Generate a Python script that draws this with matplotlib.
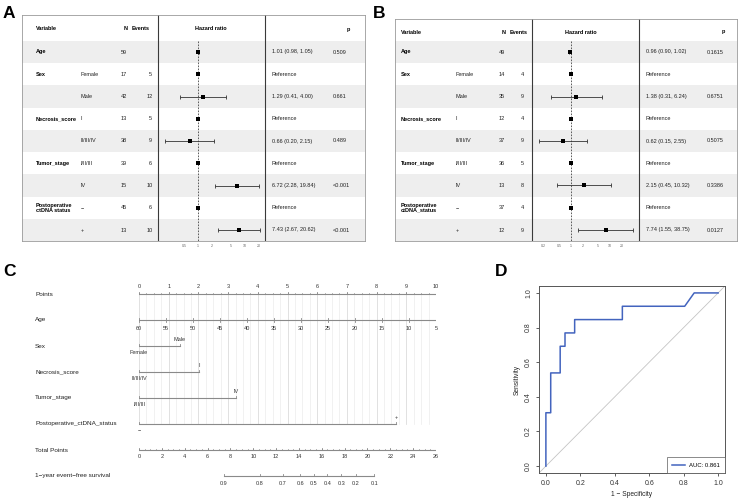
import matplotlib
matplotlib.use('Agg')
import matplotlib.pyplot as plt
from matplotlib.transforms import blended_transform_factory as btf
from matplotlib.ticker import NullLocator, FixedLocator
import numpy as np

plt.rcParams['font.family'] = ['Liberation Sans', 'DejaVu Sans']

# ---------------- data ----------------
variables_A = ["Age", "Sex", "", "Necrosis_score", "", "Tumor_stage", "", "Postoperative\nctDNA status", ""]
variables_B = ["Age", "Sex", "", "Necrosis_score", "", "Tumor_stage", "", "Postoperative\nctDNA_status", ""]
levels = ["", "Female", "Male", "I", "II/III/IV", "I/II/III", "IV", "\u2212", "+"]

A_n = [59, 17, 42, 13, 38, 39, 15, 45, 13]
A_events = [None, 5, 12, 5, 9, 6, 10, 6, 10]
A_hr = [1.01, 1, 1.29, 1, 0.66, 1, 6.72, 1, 7.43]
A_lo = [0.98, None, 0.41, None, 0.20, None, 2.28, None, 2.67]
A_hi = [1.05, None, 4.00, None, 2.15, None, 19.84, None, 20.62]
A_p = ["0.509", "", "0.661", "", "0.489", "", "<0.001", "", "<0.001"]
A_ticks = [0.5, 1, 2, 5, 10, 20]

B_n = [49, 14, 35, 12, 37, 36, 13, 37, 12]
B_events = [None, 4, 9, 4, 9, 5, 8, 4, 9]
B_hr = [0.96, 1, 1.38, 1, 0.62, 1, 2.15, 1, 7.74]
B_lo = [0.90, None, 0.31, None, 0.15, None, 0.45, None, 1.55]
B_hi = [1.02, None, 6.24, None, 2.55, None, 10.32, None, 38.75]
B_p = ["0.1615", "", "0.6751", "", "0.5075", "", "0.3386", "", "0.0127"]
B_ticks = [0.2, 0.5, 1, 2, 5, 10, 20]

# nomogram
nom_labels = ["Points", "Age", "Sex", "Necrosis_score", "Tumor_stage",
              "Postoperative_ctDNA_status", "Total Points", "1\u2212year event\u2212free survival"]
points_major = list(range(0, 11))
age_ticks = [60, 55, 50, 45, 40, 35, 30, 25, 20, 15, 10, 5]
age_points = [0, 0.91, 1.82, 2.73, 3.64, 4.55, 5.45, 6.36, 7.27, 8.18, 9.09, 10]
sex_levels = ["Female", "Male"]
sex_points = [0, 1.38]
necrosis_levels = ["II/III/IV", "I"]
necrosis_points = [0, 2.02]
tumor_levels = ["I/II/III", "IV"]
tumor_points = [0, 3.27]
ctdna_levels = ["\u2212", "+"]
ctdna_points = [0, 8.65]
total_max = 26
total_major = list(range(0, 27, 2))
surv_labels = ["0.9", "0.8", "0.7", "0.6", "0.5", "0.4", "0.3", "0.2", "0.1"]
surv_total = [7.44, 10.6, 12.6, 14.1, 15.3, 16.5, 17.7, 19.0, 20.6]

# ROC
roc_fpr = [0, 0, 0.028, 0.028, 0.083, 0.083, 0.111, 0.111, 0.167, 0.167, 0.444, 0.444, 0.806, 0.861, 1.0]
roc_tpr = [0, 0.308, 0.308, 0.538, 0.538, 0.692, 0.692, 0.769, 0.769, 0.846, 0.846, 0.923, 0.923, 1.0, 1.0]
auc_label = "AUC: 0.861"

# ---------------- figure ----------------
W, H = 740, 503
fig = plt.figure(figsize=(7.4, 5.03), dpi=100)


def rect(x0, y0, x1, y1):
    return [x0 / W, 1 - y1 / H, (x1 - x0) / W, (y1 - y0) / H]


def forest(variables, n, events, hr, lo, hi, p, ticks, L):
    x0, x1 = L['box_x']
    y0, y1 = L['box_y']
    row_h = 22.25
    c0 = 52
    yt = (y0 - c0) / row_h
    yb = (y1 - c0) / row_h
    nrows = len(levels)
    tab = fig.add_axes(rect(x0, y0, x1, y1))
    tab.set_xlim(x0, x1)
    tab.set_ylim(yb, yt)
    tab.set_xticks([]); tab.set_yticks([])
    for s in tab.spines.values():
        s.set_color('#9a9a9a'); s.set_linewidth(0.6)
    for i in range(nrows):
        if i % 2 == 0:
            tab.axhspan(i - 0.5, i + 0.5, color='#eeeeee', lw=0)
    for sx in L['sep']:
        tab.axvline(sx, color='#3a3a3a', lw=0.8)
    fs = 4.0
    hy = (L['head_y'] - c0) / row_h
    tab.text(L['var_x'], hy, "Variable", fontsize=fs, weight='bold', va='center')
    tab.text(L['nh_x'], hy, "N", fontsize=fs, weight='bold', va='center', ha='center')
    tab.text(L['eh_x'], hy, "Events", fontsize=fs, weight='bold', va='center', ha='left')
    tab.text(L['hh_x'], hy, "Hazard ratio", fontsize=fs, weight='bold', va='center', ha='center')
    tab.text(L['ph_x'], hy, "p", fontsize=fs, weight='bold', va='center', ha='center')
    for i in range(nrows):
        if variables[i]:
            tab.text(L['var_x'], i, variables[i], fontsize=fs, weight='bold', va='center',
                     linespacing=1.0)
        tab.text(L['lev_x'], i, levels[i], fontsize=fs, va='center', color='#222')
        tab.text(L['n_x'], i, str(n[i]), fontsize=fs, va='center', ha='center', color='#222')
        if events[i] is not None:
            tab.text(L['e_x'], i, str(events[i]), fontsize=fs, va='center', ha='center', color='#222')
        if lo[i] is None:
            txt = "Reference"
        else:
            txt = "%.2f (%.2f, %.2f)" % (hr[i], lo[i], hi[i])
        tab.text(L['t_x'], i, txt, fontsize=fs, va='center', color='#222')
        tab.text(L['p_x'], i, p[i], fontsize=fs, va='center', color='#222')

    ax = fig.add_axes(rect(L['sep'][0], y0, L['sep'][1], y1))
    ax.set_xscale('log')
    ax.set_xlim(*L['xlim'])
    ax.set_ylim(yb, yt)
    ax.patch.set_alpha(0)
    for s in ax.spines.values():
        s.set_visible(False)
    ax.set_yticks([])
    ax.xaxis.set_major_locator(FixedLocator(ticks))
    ax.xaxis.set_minor_locator(NullLocator())
    ax.set_xticklabels([("%g" % t) for t in ticks])
    ax.tick_params(axis='x', length=0, labelsize=2.6, pad=2.0, labelcolor='#666')
    ax.plot([1, 1], [-0.5, nrows - 0.5], ls=(0, (2, 1.6)), color='#444', lw=0.6)
    for i in range(nrows):
        if lo[i] is not None:
            ax.errorbar([hr[i]], [i], xerr=[[hr[i] - lo[i]], [hi[i] - hr[i]]], fmt='none',
                        ecolor='#333', elinewidth=0.6, capsize=1.4, capthick=0.6)
    ax.plot(hr, list(range(nrows)), 's', ms=3.0, color='black', mec='black', mew=0)


LA = dict(box_x=(22, 365), box_y=(15, 241), sep=(158, 265), head_y=29,
          var_x=36, lev_x=81, n_x=124, e_x=150, t_x=272, p_x=333,
          nh_x=126, eh_x=132, hh_x=211, ph_x=348, xlim=(0.14, 26.6))
LB = dict(box_x=(395, 737), box_y=(19, 241), sep=(532, 639), head_y=32,
          var_x=401, lev_x=456, n_x=502, e_x=522, t_x=646, p_x=707,
          nh_x=504, eh_x=510, hh_x=581, ph_x=723, xlim=(0.1, 55.5))

forest(variables_A, A_n, A_events, A_hr, A_lo, A_hi, A_p, A_ticks, LA)
forest(variables_B, B_n, B_events, B_hr, B_lo, B_hi, B_p, B_ticks, LB)

# ---------------- nomogram ----------------
nom = fig.add_axes(rect(139, 280, 436, 490))
row_px = 26.0
nom.set_xlim(0, 10)
nom.set_ylim((490 - 294) / row_px, (280 - 294) / row_px)
nom.axis('off')
lab_tr = btf(fig.transFigure, nom.transData)
lc = '#8a8a8a'
tk = 0.07
tfs = 4.0

for i, lab in enumerate(nom_labels):
    nom.text(35 / W, i, lab, transform=lab_tr, fontsize=4.6, va='center', ha='left', color='#222')

# grid
minor_pts = np.arange(0, 10.001, 0.25)
for x in minor_pts:
    c = '#d4d4d4' if abs(x - round(x)) < 1e-6 else '#ebebeb'
    nom.plot([x, x], [0, 5], color=c, lw=0.5, zorder=0)

# Points
nom.plot([0, 10], [0, 0], color=lc, lw=0.8)
for x in minor_pts:
    nom.plot([x, x], [0, -tk * 0.8], color=lc, lw=0.5)
for x in points_major:
    nom.plot([x, x], [0, -tk * 1.3], color=lc, lw=0.6)
    nom.text(x, -0.28, str(x), fontsize=tfs, ha='center', va='center', color='#333')

# Age
nom.plot([0, 10], [1, 1], color=lc, lw=0.8)
for a, x in zip(age_ticks, age_points):
    nom.plot([x, x], [1 - tk, 1 + tk], color=lc, lw=0.6)
    nom.text(x, 1.31, str(a), fontsize=tfs, ha='center', va='center', color='#333')

# categorical rows
for r, (levs, pts) in zip([2, 3, 4, 5], [(sex_levels, sex_points), (necrosis_levels, necrosis_points),
                                         (tumor_levels, tumor_points), (ctdna_levels, ctdna_points)]):
    nom.plot([pts[0], pts[1]], [r, r], color=lc, lw=0.8)
    for x in pts:
        nom.plot([x, x], [r, r - tk], color=lc, lw=0.6)
    nom.text(pts[1], r - 0.24, levs[1], fontsize=tfs, ha='center', va='center', color='#333')
    nom.text(pts[0], r + 0.24, levs[0], fontsize=tfs, ha='center', va='center', color='#333')

# Total points
scale = 10.0 / total_max
nom.plot([0, 10], [6, 6], color=lc, lw=0.8)
for t in np.arange(0, total_max + 0.001, 0.5):
    nom.plot([t * scale, t * scale], [6, 6 - tk * 0.8], color=lc, lw=0.5)
for t in total_major:
    nom.plot([t * scale, t * scale], [6, 6 - tk * 1.3], color=lc, lw=0.6)
    nom.text(t * scale, 6.25, str(t), fontsize=tfs, ha='center', va='center', color='#333')

# survival
sx = [t * scale for t in surv_total]
nom.plot([sx[0], sx[-1]], [7, 7], color=lc, lw=0.8)
for x, l in zip(sx, surv_labels):
    nom.plot([x, x], [7, 7 - tk], color=lc, lw=0.6)
    nom.text(x, 7.28, l, fontsize=tfs, ha='center', va='center', color='#333')

# ---------------- ROC ----------------
ax = fig.add_axes(rect(539, 286, 725, 473))
ax.set_xlim(-0.04, 1.04)
ax.set_ylim(-0.04, 1.04)
ax.axline((0, 0), (1, 1), color='#c4c4c4', lw=0.6)
ax.plot(roc_fpr, roc_tpr, color='#4364be', lw=1.1, label=auc_label)
tv = [0, 0.2, 0.4, 0.6, 0.8, 1.0]
ax.set_xticks(tv); ax.set_yticks(tv)
ax.set_xticklabels(["%.1f" % v for v in tv])
ax.set_yticklabels(["%.1f" % v for v in tv], rotation=90, va='center')
ax.tick_params(labelsize=5.0, length=2.5, width=0.6, color='#444', pad=2.5, labelcolor='#333')
for s in ax.spines.values():
    s.set_color('#555'); s.set_linewidth(0.7)
ax.set_xlabel("1 \u2212 Specificity", fontsize=4.8, labelpad=3, color='#222')
ax.set_ylabel("Sensitivity", fontsize=4.8, labelpad=3, color='#222')
leg = ax.legend(loc='lower right', fontsize=4.3, frameon=True, fancybox=False,
                borderaxespad=0, handlelength=2.2, borderpad=0.9, handletextpad=0.6)
leg.get_frame().set_edgecolor('#555')
leg.get_frame().set_linewidth(0.6)

# panel labels
for lab, x, y in [("A", 3, 6), ("B", 373, 6), ("C", 3, 264), ("D", 495, 264)]:
    fig.text(x / W, 1 - y / H, lab, fontsize=12.5, weight='bold', ha='left', va='top')

fig.savefig('out.png', dpi=100)
